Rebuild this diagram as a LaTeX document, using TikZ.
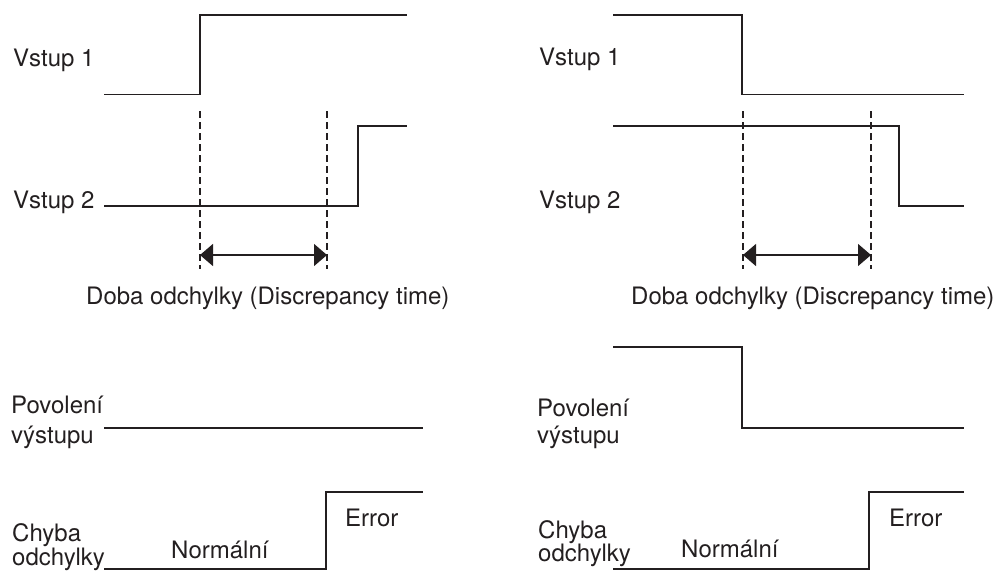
\documentclass[tikz,border=0pt]{standalone}
\usepackage{fontspec}
\setmainfont{TeX Gyre Heros}
\usetikzlibrary{arrows.meta}
\definecolor{ink}{HTML}{231F20}
\begin{document}
\begin{tikzpicture}[x=1pt,y=-1pt,
  sig/.style={line width=1.5pt,line join=miter,draw=ink},
  lbl/.style={anchor=base west,inner sep=0pt,text=ink,font=\fontsize{24}{28}\selectfont},
  guide/.style={line width=1.1pt,draw=ink,dash pattern=on 7pt off 4pt},
  span/.style={line width=1.4pt,draw=ink,{Triangle[length=13pt,width=22pt]}-{Triangle[length=13pt,width=22pt]}}]
\useasboundingbox (0,0) rectangle (999,571);
\clip (0,0) rectangle (999,571);

% ---------- left panel ----------
\node[lbl] (lv1) at (13,66) {Vstup 1};
\node[lbl] (lv2) at (13,208) {Vstup 2};
\node[lbl] (ldoba) at (86,304) {Doba odchylky (Discrepancy time)};
\node[lbl] (lpov1) at (11,413) {Povolení};
\node[lbl] (lpov2) at (11,443) {výstupu};
\node[lbl] (lch1) at (12,541) {Chyba};
\node[lbl] (lch2) at (12,565) {odchylky};
\node[lbl] (lnorm) at (171,558) {Normální};
\node[lbl] (lerr) at (345,526) {Error};

\draw[sig] (104,94.5) -- (200,94.5) -- (200,15) -- (407,15);
\draw[sig] (104,206) -- (358,206) -- (358,126) -- (407,126);
\draw[sig] (104,428) -- (423,428);
\draw[sig] (104,569) -- (326,569) -- (326,492) -- (423,492);

\coordinate (lda) at (200,111); \coordinate (ldb) at (200,269);
\coordinate (lea) at (327,111); \coordinate (leb) at (327,269);
\draw[guide] (lda) -- (ldb);
\draw[guide] (lea) -- (leb);
\coordinate (lsa) at (200,255); \coordinate (lsb) at (327,255);
\draw[span] (lsa) -- (lsb);

% ---------- right panel ----------
\node[lbl] (rv1) at (539,65) {Vstup 1};
\node[lbl] (rv2) at (539,208) {Vstup 2};
\node[lbl] (rdoba) at (631,304) {Doba odchylky (Discrepancy time)};
\node[lbl] (rpov1) at (537,416) {Povolení};
\node[lbl] (rpov2) at (537,443) {výstupu};
\node[lbl] (rch1) at (538,538) {Chyba};
\node[lbl] (rch2) at (538,561) {odchylky};
\node[lbl] (rnorm) at (681,557) {Normální};
\node[lbl] (rerr) at (889,526) {Error};

\draw[sig] (613,15) -- (742,15) -- (742,94.5) -- (964,94.5);
\draw[sig] (613,126) -- (899,126) -- (899,206) -- (964,206);
\draw[sig] (613,347) -- (742,347) -- (742,428) -- (964,428);
\draw[sig] (613,569) -- (869,569) -- (869,492) -- (964,492);

\coordinate (rda) at (743,111); \coordinate (rdb) at (743,269);
\coordinate (rea) at (871,111); \coordinate (reb) at (871,269);
\draw[guide] (rda) -- (rdb);
\draw[guide] (rea) -- (reb);
\coordinate (rsa) at (743,255); \coordinate (rsb) at (871,255);
\draw[span] (rsa) -- (rsb);
\end{tikzpicture}
\end{document}
